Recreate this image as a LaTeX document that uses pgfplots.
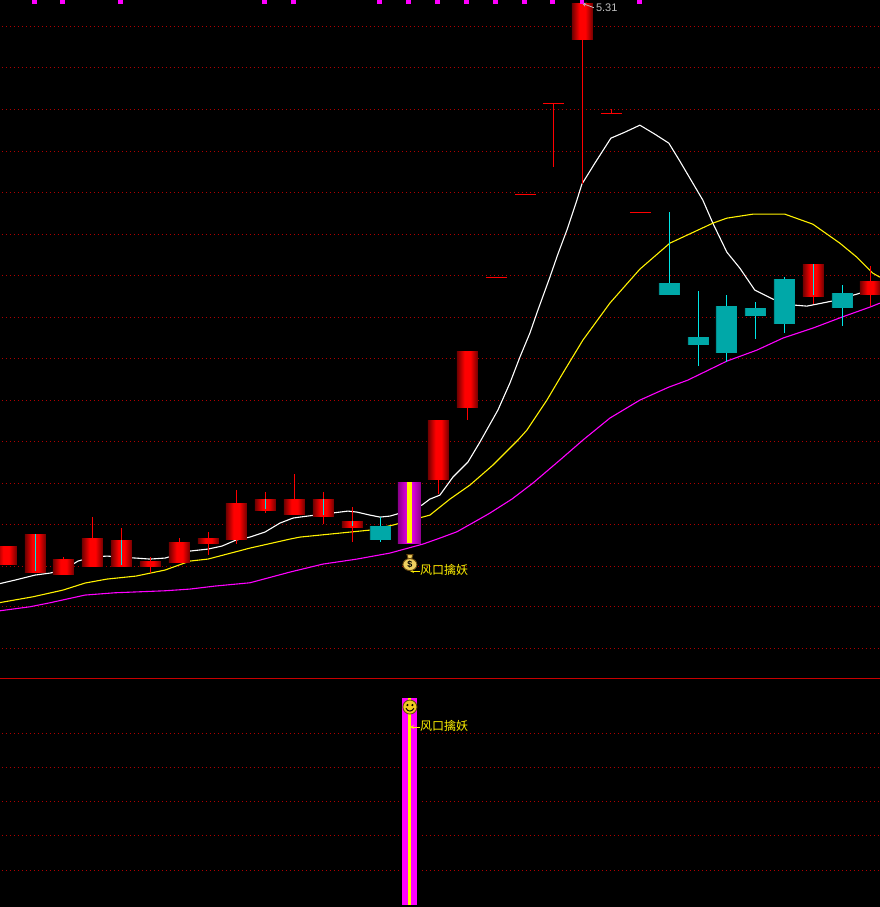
\documentclass[border=0pt]{standalone}
\usepackage{pgfplots}
\pgfplotsset{compat=1.18}
\usepackage{fontspec}
\setmainfont{Liberation Sans}
\newfontfamily\cjk{Noto Sans CJK SC}
\definecolor{gridred}{HTML}{B00000}
\definecolor{hlinered}{HTML}{C80000}
\definecolor{kred}{HTML}{FF0000}
\definecolor{kdark}{HTML}{700000}
\definecolor{kmid}{HTML}{B00000}
\definecolor{kteal}{HTML}{00A8A8}
\definecolor{ktealdk}{HTML}{008888}
\definecolor{kcyan}{HTML}{00E6E6}
\definecolor{kmag}{HTML}{FF00FF}
\definecolor{kpurdk}{HTML}{8A008A}
\definecolor{kpur}{HTML}{E000E0}
\definecolor{bagfill}{HTML}{F0D060}
\definecolor{bagline}{HTML}{6A4A10}
\definecolor{smfill}{HTML}{F0CC20}
\pgfdeclarehorizontalshading{redbody}{100bp}{color(0bp)=(kdark); color(25bp)=(kdark); color(33bp)=(kmid); color(43bp)=(kred); color(57bp)=(kred); color(67bp)=(kmid); color(75bp)=(kdark); color(100bp)=(kdark)}
\pgfdeclarehorizontalshading{tealbody}{100bp}{color(0bp)=(ktealdk); color(25bp)=(ktealdk); color(27bp)=(kteal); color(73bp)=(kteal); color(75bp)=(ktealdk); color(100bp)=(ktealdk)}
\pgfdeclarehorizontalshading{purbody}{100bp}{color(0bp)=(kpurdk); color(25bp)=(kpurdk); color(44bp)=(kpur); color(56bp)=(kpur); color(75bp)=(kpurdk); color(100bp)=(kpurdk)}
\pgfdeclareplotmark{smiley}{%
  \pgfsetlinewidth{0.9pt}\pgfsetstrokecolor{bagline}\pgfsetfillcolor{smfill}
  \pgfpathcircle{\pgfpointorigin}{7pt}\pgfusepath{fill,stroke}
  \pgfsetfillcolor{black}
  \pgfpathcircle{\pgfpoint{-2.5pt}{2pt}}{1.2pt}\pgfusepath{fill}
  \pgfpathcircle{\pgfpoint{2.5pt}{2pt}}{1.2pt}\pgfusepath{fill}
  \pgfsetlinewidth{1pt}\pgfsetstrokecolor{black}
  \pgfpathmoveto{\pgfpoint{-4pt}{-1.2pt}}
  \pgfpathcurveto{\pgfpoint{-2pt}{-5pt}}{\pgfpoint{2pt}{-5pt}}{\pgfpoint{4pt}{-1.2pt}}
  \pgfusepath{stroke}}
\pgfdeclareplotmark{moneybag}{%
  \pgfsetlinewidth{0.9pt}\pgfsetstrokecolor{bagline}\pgfsetfillcolor{bagfill}
  \pgfpathmoveto{\pgfpoint{-3pt}{8pt}}\pgfpathlineto{\pgfpoint{3pt}{8pt}}\pgfpathlineto{\pgfpoint{1.6pt}{3.5pt}}\pgfpathlineto{\pgfpoint{-1.6pt}{3.5pt}}\pgfpathclose
  \pgfusepath{fill,stroke}
  \pgfpathellipse{\pgfpoint{0pt}{-2pt}}{\pgfpoint{7pt}{0pt}}{\pgfpoint{0pt}{6pt}}\pgfusepath{fill,stroke}
  \color{bagline}\pgftext[at=\pgfpoint{0pt}{-2pt}]{\fontsize{9}{9}\selectfont\bfseries\$}}
% left, centre, right, body top, body bottom, wick top, wick bottom, shading, wick colour
\newcommand{\candle}[9]{%
  \addplot[line width=1.2pt,#9] coordinates {(#2,#6)(#2,#7)};
  \addplot[draw=none,shading=#8] coordinates {(#1,#4)(#3,#4)(#3,#5)(#1,#5)} -- cycle;
}
\newcommand{\dash}[3]{\addplot[line width=1.2pt,kred] coordinates {(#1,#3)(#2,#3)};}
\newcommand{\hl}[1]{\addplot[line width=1.3pt,gridred,dash pattern=on 1.3pt off 2.7pt] coordinates {(2,#1)(880,#1)};}
\begin{document}
\begin{tikzpicture}[font=\fontsize{12}{12}\selectfont]
\begin{axis}[x=1pt,y=1pt,xmin=0,xmax=880,ymin=0,ymax=907,y dir=reverse,
  ticks=none,axis line style={draw=none},axis background/.style={fill=black},clip=true]
% grid
\hl{26.5}\hl{67.5}\hl{109.5}\hl{151.5}\hl{192.5}\hl{234.5}\hl{275.5}\hl{317.5}\hl{358.5}\hl{400.5}\hl{441.5}\hl{483.5}\hl{524.5}\hl{566.5}\hl{606.5}\hl{648.5}
\hl{733.5}\hl{767.5}\hl{801.5}\hl{835.5}\hl{870.5}
\addplot[line width=1pt,hlinered] coordinates {(0,678.5)(880,678.5)};
% moving averages
\addplot[line width=1.1pt,white] coordinates {(0,583.5)(15,580)(35,575)(50,573)(63.5,570)(78,561)(92,557)(107,556)(121,557)(136,558)(150,559)(165,558)(190,551)(208,549)(222,546)(236,540)(250,537)(265,532)(280,523)(293,518)(300,517)(323,514)(340,512)(348,511)(357,512)(370,515)(380,517)(390,516)(397,514)(422,505)(430,499)(440,495)(453,477)(468,462)(480,442)(498,410)(510,383)(520,357)(530,333)(538,310)(550,277)(558,254)(567,230)(577,200)(582,184)(595,163)(611,138)(625,132)(640,125)(655,134)(669,143)(680,161)(703,200)(713,223)(727,252)(740,268)(755,290)(773,299)(795,305)(807,306)(832,301)(857,294)(870,290)(880,288)};
\addplot[line width=1.1pt,yellow] coordinates {(0,602.5)(33,596.7)(63,590)(85,583)(107,579)(136,576)(165,570)(190,561)(208,559)(250,548)(290,539)(300,537)(350,532)(370,530)(393,525)(430,515)(450,499)(470,485)(493,465)(518,440)(527,430)(547,400)(563,373)(583,340)(610,303)(640,269)(670,243)(713,223)(727,218)(753,214)(785,214)(813,224)(840,243)(857,257)(873,273)(880,277)};
\addplot[line width=1.1pt,kmag] coordinates {(0,610.7)(30,606.7)(50,602.7)(85,595)(115,592.7)(165,590.7)(190,589)(215,586)(250,582.7)(290,572)(323,564)(357,559)(390,553)(423,544)(440,538)(457,531.7)(473,522.7)(490,513)(512,499)(533,483)(560,460)(583,440)(610,418)(640,400)(669,387)(688,380)(727,361)(757,350)(783,338)(813,328)(842,317)(870,307)(880,303)};
% up candles
\candle{-4.5}{6.5}{17}{546}{564}{546}{565}{redbody}{kred}
\candle{25}{35.5}{46}{534}{572}{534}{572}{redbody}{kred}
\candle{53}{63.5}{74}{559}{574}{557}{575}{redbody}{kred}
\candle{82}{92.5}{103}{538}{566}{517}{566}{redbody}{kred}
\candle{111}{121.5}{132}{540}{566}{528}{567}{redbody}{kred}
\candle{140}{150.5}{161}{561}{566}{557}{573}{redbody}{kred}
\candle{169}{179.5}{190}{542}{562}{538}{562}{redbody}{kred}
\candle{198}{208.5}{219}{538}{543}{532}{555}{redbody}{kred}
\candle{226}{236.5}{247}{503}{539}{490}{544}{redbody}{kred}
\candle{255}{265.5}{276}{499}{510}{492}{513}{redbody}{kred}
\candle{284}{294.5}{305}{499}{514}{474}{514}{redbody}{kred}
\candle{313}{323.5}{334}{499}{516}{492}{524}{redbody}{kred}
\candle{342}{352.5}{363}{521}{527}{507}{542}{redbody}{kred}
\candle{428}{438.5}{449}{420}{479}{420}{494}{redbody}{kred}
\candle{457}{467.5}{478}{351}{407}{351}{420}{redbody}{kred}
\candle{572}{582.5}{593}{3}{39}{3}{184}{redbody}{kred}
\candle{803}{813.5}{824}{264}{296}{264}{304}{redbody}{kred}
\candle{860}{870.5}{881}{281}{294}{266}{306}{redbody}{kred}
% cyan centre lines within red bodies
\addplot[line width=1pt,kcyan] coordinates {(35.5,534)(35.5,571)};
\addplot[line width=1pt,kcyan] coordinates {(121.5,540)(121.5,565)};
\addplot[line width=1pt,kcyan] coordinates {(265.5,499)(265.5,509)};
\addplot[line width=1pt,kcyan] coordinates {(323.5,499)(323.5,515)};
\addplot[line width=1pt,kcyan] coordinates {(352.5,521)(352.5,526)};
\addplot[line width=1pt,kcyan] coordinates {(813.5,264)(813.5,295)};
% flat days
\dash{486}{507}{277.5}
\dash{515}{536}{194.5}
\dash{543.5}{564}{103.5}
\addplot[line width=1.2pt,kred] coordinates {(553.5,103.5)(553.5,167)};
\dash{601}{622}{113.5}
\addplot[line width=1.2pt,kred] coordinates {(611.5,109)(611.5,113)};
\dash{630}{651}{212.5}
% down candles
\candle{370}{380.5}{391}{526}{539}{517}{542}{tealbody}{kcyan}
\candle{659}{669.5}{680}{283}{294}{212}{294}{tealbody}{kcyan}
\candle{688}{698.5}{709}{337}{344}{291}{366}{tealbody}{kcyan}
\candle{716}{726.5}{737}{306}{352}{295}{362}{tealbody}{kcyan}
\candle{745}{755.5}{766}{308}{315}{302}{339}{tealbody}{kcyan}
\candle{774}{784.5}{795}{279}{323}{277}{333}{tealbody}{kcyan}
\candle{832}{842.5}{853}{293}{307}{285}{326}{tealbody}{kcyan}
% signal bar, upper pane
\addplot[draw=none,shading=purbody] coordinates {(398,482)(421,482)(421,543)(398,543)} -- cycle;
\addplot[draw=none,fill=yellow] coordinates {(407,482)(412,482)(412,543)(407,543)} -- cycle;
% signal bar, lower pane
\addplot[draw=none,fill=black] coordinates {(400,698)(420,698)(420,907)(400,907)} -- cycle;
\addplot[draw=none,fill=kmag] coordinates {(402,698)(417,698)(417,905)(402,905)} -- cycle;
\addplot[draw=none,fill=yellow] coordinates {(408,698)(411,698)(411,905)(408,905)} -- cycle;
% day ticks
\addplot[only marks,mark=square*,mark size=1.6pt,kmag] coordinates {(34.3,1.4)(62.3,1.4)(120.3,1.4)(264.3,1.4)(293.3,1.4)(379.3,1.4)(408.3,1.4)(437.3,1.4)(466.3,1.4)(495.3,1.4)(524.3,1.4)(552.3,1.4)(581.7,1.4)(639.3,1.4)};
% icons
\addplot[only marks,mark=moneybag] coordinates {(410,562.5)};
\addplot[only marks,mark=smiley] coordinates {(410,707)};
% high label
\addplot[line width=0.8pt,white!75!black,<-,>=stealth] coordinates {(582,3)(594,7.5)};
\node[anchor=west,inner sep=0pt,text=white!75!black,font=\fontsize{11}{11}\selectfont] at (axis cs:596,8) {5.31};
% labels
\addplot[line width=0.8pt,yellow,<-,>=stealth] coordinates {(410,571)(420,571)};
\addplot[line width=0.8pt,yellow,<-,>=stealth] coordinates {(410,727)(420,727)};
\node[anchor=west,inner sep=0pt,text=yellow,font=\cjk\fontsize{12}{12}\selectfont] at (axis cs:420,570) {风口擒妖};
\node[anchor=west,inner sep=0pt,text=yellow,font=\cjk\fontsize{12}{12}\selectfont] at (axis cs:420,726) {风口擒妖};
\end{axis}
\end{tikzpicture}
\end{document}
